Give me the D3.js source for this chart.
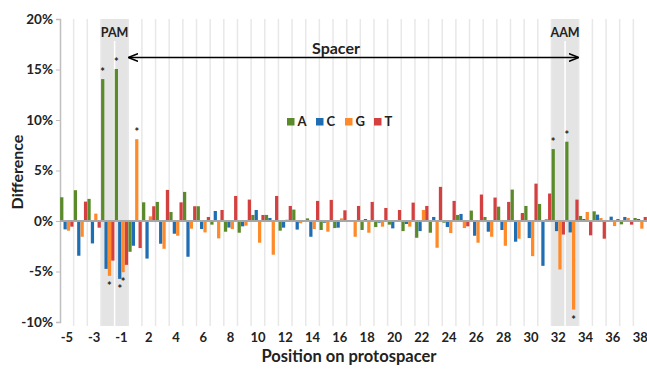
<!DOCTYPE html>
<html>
<head>
<meta charset="utf-8">
<script src="https://cdn.jsdelivr.net/npm/d3@7"></script>
<style>
  body { margin: 0; background: #fff; }
  text { font-family: Lato, "Open Sans", sans-serif; font-weight: bold; fill: #222; }
</style>
</head>
<body>
<div id="chart"></div>
<script>
// positions along the protospacer (no 0)
const positions = [-5, -4, -3, -2, -1, 1, 2, 3, 4, 5, 6, 7, 8, 9, 10, 11, 12, 13, 14, 15, 16, 17, 18, 19, 20,
  21, 22, 23, 24, 25, 26, 27, 28, 29, 30, 31, 32, 33, 34, 35, 36, 37, 38];

const seriesNames = ['A', 'C', 'G', 'T'];
const seriesColors = ['#5B8A2B', '#1F6DB2', '#FF8A2A', '#D2403F'];

// difference in %, one value per position
const valuesA = [2.35, 3.05, 2.19, 14.05, 15.05, -3.05, 1.85, 1.89, 0.89, 2.88, 1.46, -0.36, -1.06, -1.16, 0.6, 0.6,
  -0.96, 1.13, 0.26, -0.89, -0.7, 0.05, -0.89, -0.6, -0.36, -1.0, -1.66, -1.16, -0.17, 0.6, 1.03, 0.4, 1.42, 3.11,
  1.49, 1.69, 7.12, 7.85, 0.5, 0.96, -0.07, -0.33, 0.3];
const valuesC = [-0.83, -3.44, -2.22, -4.74, -5.73, -2.45, -3.72, -2.25, -1.26, -3.54, -0.79, 0.99, -0.65, -0.53, 1.09,
  0.3, -0.66, -0.85, -1.56, -0.17, -0.66, -0.05, 0.2, -0.17, -0.73, -0.3, -1.0, 0.4, -0.6, 0.7, -1.46, -1.06, -0.89,
  -2.05, -1.69, -4.44, -1.0, -1.13, 0.2, 0.63, 0.43, 0.4, 0.2];
const valuesG = [-0.96, -1.56, 0.73, -5.43, -5.07, 8.1, 0.46, -2.75, -1.46, -0.76, -1.13, -1.72, -0.8, -0.46, -2.15,
  -3.34, 0.13, -0.23, -0.8, -1.06, 0.26, -1.56, -1.16, -0.56, 0.05, -0.56, 1.09, -2.65, -1.19, -0.7, -2.15, -1.56,
  -2.45, -1.75, -3.48, 0.2, -4.8, -8.77, 0.89, 0.3, -0.5, 0.3, -0.76];
const valuesT = [-0.56, 1.92, -0.66, -3.92, -4.34, -2.68, 1.46, 3.08, 1.85, 1.46, 0.4, 1.09, 2.48, 2.12, 0.6, 2.48,
  1.49, -0.1, 1.99, 2.09, 1.06, 1.49, 1.89, 1.29, 1.09, 1.82, 1.49, 3.38, 1.99, -0.53, 2.62, 2.32, 1.89, 0.79, 3.7,
  2.72, -1.34, 2.12, -1.42, -1.75, 0.2, -0.36, 0.4];

const yTicks = [-10, -5, 0, 5, 10, 15, 20];

// significant marks
const starred = [
  { pos: -2, base: 'A' }, { pos: -1, base: 'A' }, { pos: -2, base: 'G' }, { pos: -1, base: 'C' },
  { pos: -1, base: 'G' }, { pos: 1, base: 'G' }, { pos: 32, base: 'A' }, { pos: 33, base: 'A' }, { pos: 33, base: 'G' }
];

const regions = [
  { label: 'PAM', from: -2, to: -1 },
  { label: 'AAM', from: 32, to: 33 }
];

const allValues = [valuesA, valuesC, valuesG, valuesT];
const rows = positions.map((p, i) => ({ pos: p, vals: seriesNames.map((s, j) => ({ s: s, v: allValues[j][i] })) }));

const W = 647, H = 370;
const plotLeft = 60, plotRight = 647, plotTop = 19, plotBottom = 322, gridBottom = 326;

const svg = d3.select('#chart').append('svg')
  .attr('width', W)
  .attr('height', H);

const x = d3.scaleBand()
  .domain(positions)
  .range([plotLeft, plotRight])
  .padding(0);

const xs = d3.scaleBand()
  .domain(seriesNames)
  .range([0, x.bandwidth()])
  .padding(0.04);

const y = d3.scaleLinear()
  .domain([-10, 20])
  .range([plotBottom, plotTop]);

const color = d3.scaleOrdinal().domain(seriesNames).range(seriesColors);

// shaded PAM / AAM regions
regions.forEach(r => {
  const x0 = x(r.from), x1 = x(r.to) + x.bandwidth();
  svg.append('rect')
    .attr('x', x0).attr('y', plotTop)
    .attr('width', x1 - x0).attr('height', gridBottom - plotTop)
    .attr('fill', '#E3E4E3');
});

// vertical gridlines between categories
const isSplit = d => regions.some(r => d === r.to);
svg.append('g')
  .selectAll('line')
  .data(positions.slice(1))
  .join('line')
  .attr('x1', d => x(d)).attr('x2', d => x(d))
  .attr('y1', d => isSplit(d) ? 41 : plotTop)
  .attr('y2', gridBottom)
  .attr('stroke', d => isSplit(d) ? '#fff' : '#E8E8E8')
  .attr('stroke-width', 1.5);

// y axis
const yAxis = svg.append('g')
  .attr('transform', `translate(${plotLeft},0)`)
  .call(d3.axisLeft(y).tickValues(yTicks).tickSize(4).tickFormat(d => d + '%'));
yAxis.select('.domain').attr('stroke', '#BFBFBF').attr('stroke-width', 1.5);
yAxis.selectAll('.tick line').attr('stroke', '#BFBFBF');
yAxis.selectAll('.tick text')
  .attr('x', -7)
  .style('font-family', 'Lato, sans-serif')
  .style('font-weight', 'bold')
  .style('font-size', '13.5px')
  .attr('fill', '#222');

// bars
const groups = svg.append('g')
  .selectAll('g')
  .data(rows)
  .join('g')
  .attr('transform', d => `translate(${x(d.pos)},0)`);

groups.selectAll('rect')
  .data(d => d.vals)
  .join('rect')
  .attr('x', d => xs(d.s))
  .attr('width', xs.bandwidth())
  .attr('y', d => y(Math.max(0, d.v)))
  .attr('height', d => Math.abs(y(d.v) - y(0)))
  .attr('fill', d => color(d.s));

// zero line
svg.append('line')
  .attr('x1', plotLeft).attr('x2', plotRight)
  .attr('y1', y(0)).attr('y2', y(0))
  .attr('stroke', '#A6A6A6')
  .attr('stroke-width', 2);

// stars
svg.append('g')
  .selectAll('text')
  .data(starred)
  .join('text')
  .attr('x', d => x(d.pos) + xs(d.base) + xs.bandwidth() / 2)
  .attr('y', d => {
    const v = allValues[seriesNames.indexOf(d.base)][positions.indexOf(d.pos)];
    return v > 0 ? y(v) - 3 : y(v) + 14;
  })
  .attr('text-anchor', 'middle')
  .style('font-size', '11px')
  .attr('fill', '#333')
  .text('*');

// x axis
const xAxis = svg.append('g')
  .attr('transform', `translate(0,${gridBottom})`)
  .call(d3.axisBottom(x).tickValues(positions.filter((d, i) => i % 2 === 0)).tickSize(0));
xAxis.select('.domain').remove();
xAxis.selectAll('.tick text')
  .attr('dy', '1.0em')
  .style('font-family', 'Lato, sans-serif')
  .style('font-weight', 'bold')
  .style('font-size', '13px')
  .attr('fill', '#222');

// region labels
regions.forEach(r => {
  svg.append('text')
    .attr('x', x(r.to))
    .attr('y', 37)
    .attr('text-anchor', 'middle')
    .style('font-size', '12.5px')
    .text(r.label);
});

// spacer arrow
const defs = svg.append('defs');
defs.append('marker')
  .attr('id', 'arrow')
  .attr('viewBox', '0 0 10 10')
  .attr('refX', 9).attr('refY', 5)
  .attr('markerWidth', 7).attr('markerHeight', 7)
  .attr('orient', 'auto-start-reverse')
  .append('path')
  .attr('d', 'M0,1 L10,5 L0,9')
  .attr('fill', 'none')
  .attr('stroke', '#000')
  .attr('stroke-width', 1.5);

svg.append('line')
  .attr('x1', x(1) + 1).attr('x2', x(34) - 1)
  .attr('y1', 57.5).attr('y2', 57.5)
  .attr('stroke', '#000')
  .attr('stroke-width', 1.4)
  .attr('marker-start', 'url(#arrow)')
  .attr('marker-end', 'url(#arrow)');

svg.append('text')
  .attr('x', 336)
  .attr('y', 54)
  .attr('text-anchor', 'middle')
  .style('font-size', '16px')
  .text('Spacer');

// legend
const legend = svg.append('g')
  .attr('transform', 'translate(287,118)')
  .selectAll('g')
  .data(seriesNames)
  .join('g')
  .attr('transform', (d, i) => `translate(${i * 29},0)`);
legend.append('rect')
  .attr('width', 7.5).attr('height', 7.5)
  .attr('fill', d => color(d));
legend.append('text')
  .attr('x', 10.5).attr('y', 8)
  .style('font-size', '13px')
  .text(d => d);

// axis titles
svg.append('text')
  .attr('x', 349)
  .attr('y', 362)
  .attr('text-anchor', 'middle')
  .style('font-size', '16.5px')
  .text('Position on protospacer');

svg.append('text')
  .attr('transform', 'translate(23,172) rotate(-90)')
  .attr('text-anchor', 'middle')
  .style('font-size', '16px')
  .text('Difference');
</script>
</body>
</html>
